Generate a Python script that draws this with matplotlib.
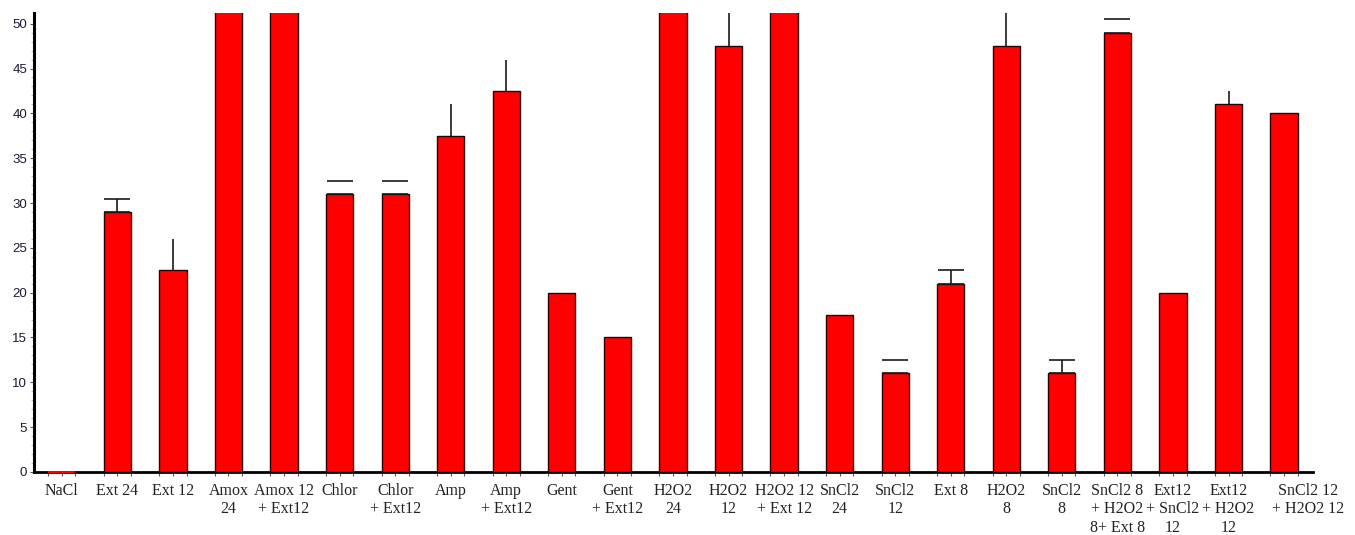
import matplotlib
matplotlib.use('Agg')
import matplotlib.pyplot as plt
import numpy as np

labels = ['NaCl', 'Ext 24', 'Ext 12', 'Amox\n24', 'Amox 12\n+ Ext12', 'Chlor',
          'Chlor\n+ Ext12', 'Amp', 'Amp\n+ Ext12', 'Gent', 'Gent\n+ Ext12',
          'H2O2\n24', 'H2O2\n12', 'H2O2 12\n+ Ext 12', 'SnCl2\n24', 'SnCl2\n12',
          'Ext 8', 'H2O2\n8', 'SnCl2\n8', 'SnCl2 8\n+ H2O2\n8+ Ext 8',
          'Ext12\n+ SnCl2\n12', 'Ext12\n+ H2O2\n12', 'SnCl2 12\n+ H2O2 12']

# zones beyond the top of the axis are simply cut off by ylim
values = [0, 29, 22.5, 55, 55, 31, 31, 37.5, 42.5, 20, 15,
          55, 47.5, 55, 17.5, 11, 21, 47.5, 11, 49, 20, 41, 40]
errors = [0, 1.5, 3.5, 0, 0, 1.5, 1.5, 3.5, 3.5, 0, 0,
          0, 4.5, 0, 0, 1.5, 1.5, 4.5, 1.5, 1.5, 0, 1.5, 0]
has_cap = [0, 1, 0, 0, 0, 1, 1, 0, 0, 0, 0,
           0, 0, 0, 0, 1, 1, 0, 1, 1, 0, 0, 0]
has_stem = [0, 1, 1, 0, 0, 0, 0, 1, 1, 0, 0,
            0, 1, 0, 0, 0, 1, 1, 1, 0, 0, 1, 0]

x = np.arange(len(labels))
width = 0.49
vals = np.array(values, dtype=float)

fig = plt.figure(figsize=(13.55, 5.35), dpi=100)
ax = fig.add_axes([0.0251, 0.1178, 0.9439, 0.858])

ax.bar(x, vals, width=width, color='#ff0000', edgecolor='#2a0000', linewidth=1.0, zorder=3)

# zero-height bars still show as a red stroke on the axis
zero = vals == 0
ax.hlines(vals[zero], x[zero] - width / 2, x[zero] + width / 2, colors='red',
          linewidth=1.5, zorder=5, clip_on=False)

for i in range(len(x)):
    if errors[i] == 0:
        continue
    ax.errorbar(x[i], values[i], yerr=[[0], [errors[i]]], fmt='none',
                ecolor='#1a1a1a', elinewidth=1.2 if has_stem[i] else 0,
                capsize=9.5 if has_cap[i] else 0, capthick=1.2, zorder=4)

ax.set_xlim(-0.5, 22.52)
ax.set_ylim(0, 51.2)

ax.set_yticks(np.arange(0, 51, 5))
ax.set_yticks(np.arange(0, 51, 1), minor=True)
ax.set_xticks(x)
ax.set_xticks(np.concatenate([x - width / 2, x + width / 2]), minor=True)
lab_font = dict(family='Liberation Serif', fontsize=11.5, linespacing=1.2, color='#222222')
ax.set_xticklabels(labels[:-1] + [''], **lab_font)
# last label sits a little right of its bar
ax.annotate(labels[-1], xy=(x[-1], 0), xycoords=('data', 'axes fraction'),
            xytext=(17, -8), textcoords='offset points', ha='center', va='top',
            annotation_clip=False, **lab_font)

for t in ax.get_yticklabels():
    t.set_family('Liberation Sans')
    t.set_fontsize(9.5)
    t.set_color('#1a1a33')

ax.tick_params(axis='x', which='both', direction='out', length=3, width=0.8,
               color='#555555', pad=5)
ax.tick_params(axis='y', which='major', direction='out', length=3, width=0.8,
               color='#555555', pad=2)
ax.tick_params(axis='y', which='minor', direction='out', length=2, width=0.5,
               color='#999999')

for side in ['top', 'right']:
    ax.spines[side].set_visible(False)
ax.spines['left'].set_linewidth(2.2)
ax.spines['bottom'].set_linewidth(2.0)

fig.savefig('out.png', dpi=100)
